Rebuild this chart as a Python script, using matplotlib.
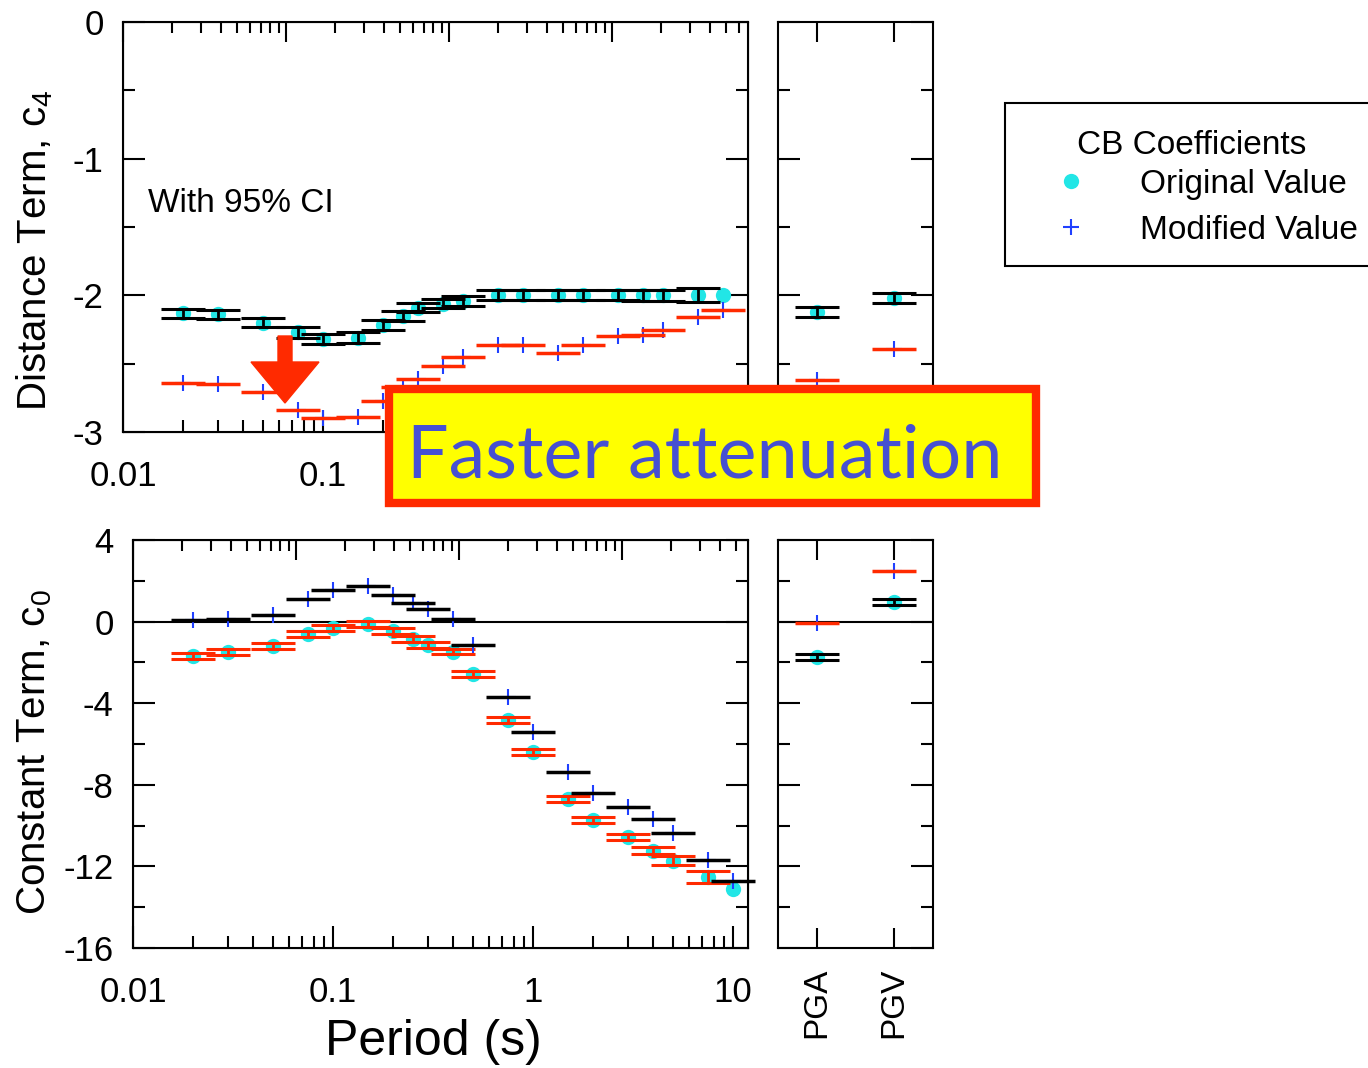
import numpy as np
import matplotlib
matplotlib.use("Agg")
import matplotlib.pyplot as plt
from matplotlib.ticker import LogLocator, MultipleLocator, NullFormatter, FixedLocator
from matplotlib.patches import Rectangle, FancyArrow
from matplotlib.lines import Line2D

plt.rcParams["font.family"] = ["Liberation Sans", "DejaVu Sans"]
plt.rcParams["mathtext.fontset"] = "custom"
plt.rcParams["mathtext.rm"] = "Liberation Sans"
plt.rcParams["mathtext.it"] = "Liberation Sans:italic"
plt.rcParams["axes.unicode_minus"] = False

# CB coefficients vs period
periods = [0.02, 0.03, 0.05, 0.075, 0.1, 0.15, 0.2, 0.25, 0.3, 0.4,
           0.5, 0.75, 1, 1.5, 2, 3, 4, 5, 7.5, 10]

c4_orig = [-2.13, -2.14, -2.20, -2.27, -2.32, -2.31, -2.22, -2.15, -2.09, -2.06,
           -2.04, -2.00, -2.00, -2.00, -2.00, -2.00, -2.00, -2.00, -2.00, -2.00]
c4_ci = [0.033, 0.035, 0.035, 0.04, 0.039, 0.039, 0.036, 0.037, 0.034, 0.034,
         0.037, 0.037, 0.037, 0.037, 0.037, 0.037, 0.04, 0.04, 0.052, np.nan]
c4_mod = [-2.64, -2.65, -2.71, -2.84, -2.90, -2.89, -2.77, -2.67, -2.61, -2.52,
          -2.45, -2.36, -2.36, -2.42, -2.36, -2.30, -2.29, -2.25, -2.16, -2.11]

c0_orig = [-1.67, -1.50, -1.18, -0.60, -0.31, -0.11, -0.47, -0.85, -1.13, -1.47,
           -2.57, -4.82, -6.41, -8.69, -9.72, -10.57, -11.23, -11.72, -12.53, -13.10]
c0_ci = [0.14, 0.14, 0.155, 0.15, 0.16, 0.16, 0.15, 0.13, 0.14, 0.14,
         0.15, 0.14, 0.15, 0.155, 0.15, 0.16, 0.18, 0.21, 0.28, np.nan]
c0_mod = [0.08, 0.13, 0.33, 1.11, 1.57, 1.76, 1.31, 0.92, 0.60, 0.12,
          -1.14, -3.68, -5.42, -7.35, -8.38, -9.10, -9.69, -10.38, -11.68, -12.70]

# PGA / PGV
pg_names = ["PGA", "PGV"]
c4_orig_pg = [-2.12, -2.02]
c4_ci_pg = [0.035, 0.035]
c4_mod_pg = [-2.62, -2.39]
c0_orig_pg = [-1.72, 0.95]
c0_ci_pg = [0.14, 0.14]
c0_mod_pg = [-0.05, 2.47]

CYAN = "#22e6e6"
RED = "#ff2a00"
BLUE = "#2040ff"
W, H = 1368, 1068


def draw(ax, x, orig, ci, mod, ci_color, mod_color):
    ax.plot(x, orig, "o", color=CYAN, ms=11, mec="none", zorder=2, clip_on=False)
    ax.errorbar(x, orig, yerr=ci, fmt="none", ecolor=ci_color, elinewidth=2,
                capsize=15.5, capthick=2.2, zorder=3)
    ax.plot(x, mod, "+", color=BLUE, ms=11, mew=1.5, zorder=3, clip_on=False)
    ax.plot(x, mod, "_", color=mod_color, ms=31, mew=2.5, zorder=4, clip_on=False)


def fax(x0, y0, x1, y1):
    return fig.add_axes([x0 / W, 1 - y1 / H, (x1 - x0) / W, (y1 - y0) / H])


def style_left(ax, ymaj, ymin, width_px):
    ax.set_xscale("log")
    ax.xaxis.set_major_locator(LogLocator(base=10))
    ax.xaxis.set_minor_locator(LogLocator(base=10, subs=np.arange(2, 10)))
    ax.xaxis.set_minor_formatter(NullFormatter())
    ax.xaxis.set_major_formatter(plt.FuncFormatter(lambda v, p: f"{v:g}"))
    ax.yaxis.set_major_locator(MultipleLocator(ymaj))
    ax.yaxis.set_minor_locator(MultipleLocator(ymin))
    ax.tick_params(which="both", direction="in", left=True, right=True, top=False,
                   width=1.5, labelsize=25)
    ax.tick_params(which="major", length=16)
    ax.tick_params(which="minor", length=8.5)
    ax.tick_params(axis="x", pad=20)
    ax.tick_params(axis="y", pad=14)
    for s in ax.spines.values():
        s.set_linewidth(1.5)
    top = ax.twiny()
    top.set_xscale("log")
    top.set_xlim(1, 10 ** (width_px / 163.0))
    top.xaxis.set_major_locator(LogLocator(base=10))
    top.xaxis.set_minor_locator(LogLocator(base=10, subs=np.arange(2, 10)))
    top.tick_params(which="both", direction="in", labeltop=False, width=1.5)
    top.tick_params(which="major", length=14.5)
    top.tick_params(which="minor", length=8)


def style_right(ax, ymaj, ymin, labels):
    ax.set_xlim(-0.506, 1.506)
    ax.xaxis.set_major_locator(FixedLocator([0, 1]))
    ax.yaxis.set_major_locator(MultipleLocator(ymaj))
    ax.yaxis.set_minor_locator(MultipleLocator(ymin))
    ax.tick_params(which="both", direction="in", left=True, right=True, top=True,
                   bottom=True, width=1.5, labelleft=False)
    ax.tick_params(which="major", length=16)
    ax.tick_params(which="minor", length=8.5)
    ax.tick_params(axis="x", length=14.5)
    if labels:
        ax.set_xticklabels(pg_names, rotation=90, fontsize=24, va="top")
        ax.tick_params(axis="x", pad=14)
    else:
        ax.tick_params(axis="x", labelbottom=False)
    for s in ax.spines.values():
        s.set_linewidth(1.5)


fig = plt.figure(figsize=(W / 100, H / 100), dpi=100)

# top row: distance term
ax1 = fax(123, 22, 748, 432)
ax1.set_xlim(0.01, 10 ** (-2 + 625 / 200))
ax1.set_ylim(-3, 0)
draw(ax1, periods, c4_orig, c4_ci, c4_mod, "black", RED)
style_left(ax1, 1, 0.5, 625)
# labels 1 and 10 sit under the call-out box
ax1.xaxis.set_major_formatter(plt.FuncFormatter(lambda v, p: f"{v:g}" if v < 0.5 else ""))
ax1.text((148 - 123) / 625, 1 - (203 - 22) / 410, "With 95% CI", transform=ax1.transAxes,
         fontsize=24, va="center", ha="left")

ax2 = fax(778, 22, 933, 432)
ax2.set_ylim(-3, 0)
draw(ax2, [0, 1], c4_orig_pg, c4_ci_pg, c4_mod_pg, "black", RED)
style_right(ax2, 1, 0.5, False)

# bottom row: constant term
ax3 = fax(133, 540, 748, 948)
ax3.set_xlim(0.01, 10 ** (-2 + 615 / 200))
ax3.set_ylim(-16, 4)
ax3.axhline(0, color="black", lw=1.5, zorder=1)
draw(ax3, periods, c0_orig, c0_ci, c0_mod, RED, "black")
style_left(ax3, 4, 2, 615)

ax4 = fax(778, 540, 933, 948)
ax4.set_ylim(-16, 4)
ax4.axhline(0, color="black", lw=1.5, zorder=1)
draw(ax4, [0, 1], c0_orig_pg, c0_ci_pg, c0_mod_pg, "black", RED)
style_right(ax4, 4, 2, True)

fig.text(35 / W, 1 - 250 / H, "Distance Term, c$_{\\it{4}}$", rotation=90,
         fontsize=29, ha="center", va="center")
fig.text(35 / W, 1 - 752 / H, "Constant Term, c$_{\\it{0}}$", rotation=90,
         fontsize=29, ha="center", va="center")
fig.text(433 / W, 1 - 1042 / H, "Period (s)", fontsize=36, ha="center", va="center")

# legend
handles = [Line2D([], [], marker="o", color=CYAN, ls="none", ms=11, mec="none"),
           Line2D([], [], marker="+", color=BLUE, ls="none", ms=11, mew=1.5)]
leg = fig.legend(handles, ["Original Value", "Modified Value"], title="CB Coefficients",
                 loc="upper left", bbox_to_anchor=(1005 / W, 1 - 103 / H),
                 fontsize=24, title_fontsize=24, frameon=True, fancybox=False,
                 edgecolor="black", framealpha=1, borderpad=0.6, handlelength=2.76,
                 handletextpad=0.7, labelspacing=0.45, borderaxespad=0)
leg.get_frame().set_linewidth(1.5)
leg.get_title().set_y(-7)

# annotation
arrow = FancyArrow(285 / W, 1 - 336 / H, 0, -(403 - 336) / H, width=14 / W,
                   head_width=68 / W, head_length=41 / H, length_includes_head=True,
                   transform=fig.transFigure, color=RED, zorder=10)
fig.add_artist(arrow)
box = Rectangle((389 / W, 1 - 503 / H), 647 / W, 114 / H, transform=fig.transFigure,
                facecolor="#ffff00", edgecolor=RED, linewidth=6, zorder=10)
fig.add_artist(box)
fig.text(705 / W, 1 - 457 / H, "Faster attenuation", fontsize=53, family="Lato",
         color="#4650d2", ha="center", va="center", zorder=11)

fig.savefig("out.png", dpi=100)
